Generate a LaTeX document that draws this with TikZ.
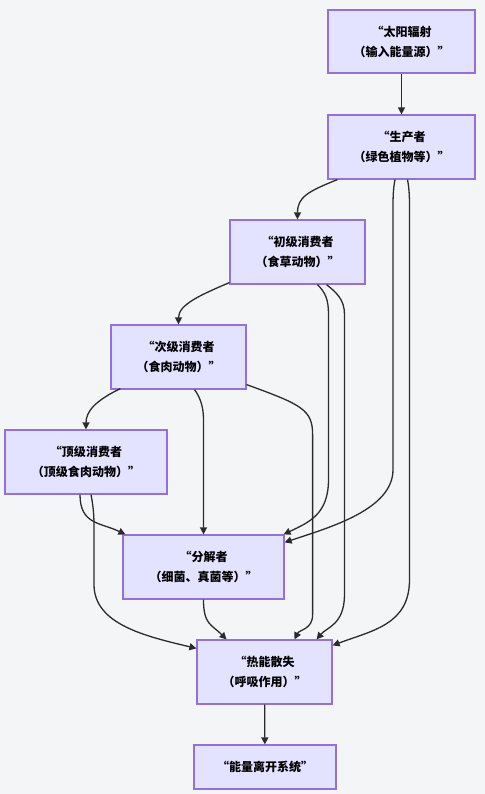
\documentclass[tikz,border=0pt]{standalone}
\usepackage{fontspec}
\setmainfont{Noto Sans CJK SC}
\usetikzlibrary{arrows.meta}
\definecolor{bgcol}{HTML}{F4F5F7}
\definecolor{boxfill}{HTML}{E4E3FF}
\definecolor{boxline}{HTML}{9370DB}
\definecolor{linecol}{HTML}{2B2B2B}
\begin{document}
\begin{tikzpicture}[x=1bp, y=-1bp, every node/.style={rectangle, draw=boxline, fill=boxfill, line width=1.2bp, minimum height=64bp, inner sep=0pt, align=center, font=\fontsize{12bp}{20bp}\selectfont\bfseries}, flow/.style={draw=linecol, line width=1.3bp, -{Triangle[length=7bp,width=7bp]}}]
        % Background
        \fill[bgcol] (0,0) rectangle (485,794);

        % Energy source and producer
        \node[minimum width=147bp, minimum height=63bp] (sun) at (401.5,41.5) {“太阳辐射\\（输入能量源）”};
        \node[minimum width=147bp] (prod) at (401.5,147) {“生产者\\（绿色植物等）”};

        % Consumers
        \node[minimum width=135bp] (prim) at (297.5,252) {“初级消费者\\（食草动物）”};
        \node[minimum width=135bp] (sec) at (178.5,357) {“次级消费者\\（食肉动物）”};
        \node[minimum width=162bp] (top) at (86,462) {“顶级消费者\\（顶级食肉动物）”};

        % Decomposer, heat loss and exit
        \node[minimum width=161bp] (dec) at (203.5,567) {“分解者\\（细菌、真菌等）”};
        \node[minimum width=135bp] (heat) at (264.5,672) {“热能散失\\（呼吸作用）”};
        \node[minimum width=142bp, minimum height=44bp] (out) at (265,767) {“能量离开系统”};

        % Straight links
        \foreach \a/\b in {sun/prod, heat/out} {
            \draw[flow] (\a) -- (\b);
        }

        % Food chain
        \draw[flow] ([xshift=10bp]prod.south west) .. controls +(-30,12) and +(0,-22) .. (prim.north);
        \draw[flow] ([yshift=2bp]prim.south west) .. controls +(-28,12) and +(0,-20) .. (sec.north);
        \draw[flow] ([yshift=1bp,xshift=10bp]sec.south west) .. controls +(-25,12) and +(0,-18) .. (top.north);

        % Links to the decomposer
        \draw[flow] ([xshift=-6.5bp]prod.south) .. controls +(-2,10) and +(0,-10) .. ++(-2,30) -- ++(0,260) .. controls +(0,40) and +(45,-15) .. ([yshift=-8bp]dec.north east);
        \draw[flow] ([xshift=20bp]prim.south) .. controls +(8,8) and +(0,-15) .. ++(11,30) -- ++(0,165) .. controls +(0,35) and +(25,-12) .. ([xshift=-1bp]dec.north east);
        \draw[flow] ([xshift=16bp]sec.south) .. controls +(6,8) and +(0,-12) .. ++(9,30) -- (dec.north);
        \draw[flow] ([xshift=-6bp]top.south) .. controls +(0,30) and +(-25,-12) .. ([xshift=3bp]dec.north west);

        % Links to heat loss
        \draw[flow] ([xshift=6bp]prod.south) .. controls +(2,10) and +(0,-10) .. ++(2,30) -- ++(0,370) .. controls +(0,45) and +(40,-15) .. ([yshift=-6bp]heat.north east);
        \draw[flow] ([xshift=29bp]prim.south) .. controls +(10,8) and +(0,-15) .. ++(18,30) -- ++(0,280) .. controls +(0,30) and +(10,-12) .. ([xshift=-16bp]heat.north east);
        \draw[flow] ([yshift=5bp]sec.south east) .. controls +(55,20) and +(0,-25) .. ++(66,50) -- ++(0,180) .. controls +(0,15) and +(5,-10) .. ([xshift=30bp]heat.north);
        \draw[flow] ([xshift=5bp]top.south) .. controls +(2,10) and +(0,-10) .. ++(3,30) -- ++(0,60) .. controls +(0,40) and +(-50,-12) .. ([yshift=-9bp]heat.north west);
        \draw[flow] (dec.south) .. controls +(0,25) and +(-15,-15) .. ([xshift=-38bp]heat.north);
\end{tikzpicture}
\end{document}
